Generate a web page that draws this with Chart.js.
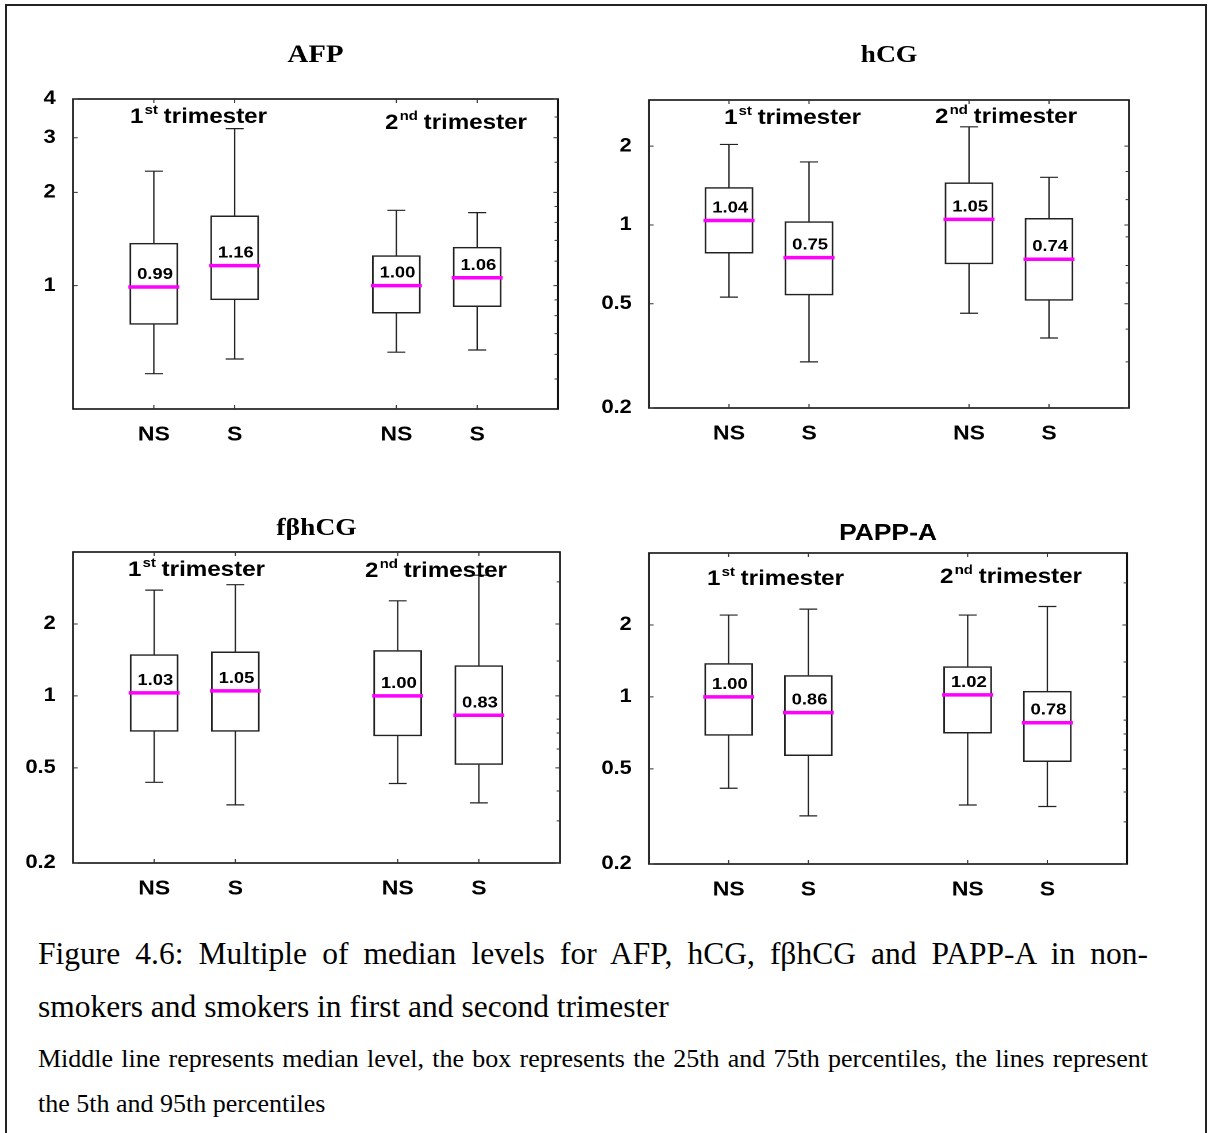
<!DOCTYPE html>
<html>
<head>
<meta charset="utf-8">
<script src="https://cdn.jsdelivr.net/npm/chart.js@4.4.1/dist/chart.umd.min.js"></script>
<style>
  html, body { margin: 0; padding: 0; background: #fff; }
  body { width: 1211px; height: 1133px; position: relative; overflow: hidden; }
  .panel { position: absolute; transform-origin: 0 0; }
  .cap { position: absolute; left: 38px; width: 1110px; font-family: "Liberation Serif", "Times New Roman", serif; color: #000; }
  .just { text-align: justify; text-align-last: justify; }
  #frame { position: absolute; left: 5px; top: 4px; width: 1198px; height: 1200px; border: 2px solid #222; border-bottom: none; pointer-events: none; }
</style>
</head>
<body>
<div id="root"></div>
<div class="cap just" style="top:938px;font-size:31.5px;line-height:31.5px;">Figure 4.6: Multiple of median levels for AFP, hCG, fβhCG and PAPP-A in non-</div>
<div class="cap" style="top:991px;font-size:31.5px;line-height:31.5px;">smokers and smokers in first and second trimester</div>
<div class="cap just" style="top:1046px;font-size:26px;line-height:26px;">Middle line represents median level, the box represents the 25th and 75th percentiles, the lines represent</div>
<div class="cap" style="top:1091px;font-size:26px;line-height:26px;">the 5th and 95th percentiles</div>
<div id="frame"></div>
<script>
// ---------- DATA ----------
const xLabels = ['', 'NS', 'S', '', 'NS', 'S', ''];

const afpP5     = [null, 0.52, 0.58, null, 0.61, 0.62, null];
const afpQ1     = [null, 0.75, 0.90, null, 0.815, 0.855, null];
const afpMedian = [null, 0.99, 1.16, null, 1.00, 1.06, null];
const afpQ3     = [null, 1.37, 1.68, null, 1.25, 1.33, null];
const afpP95    = [null, 2.34, 3.21, null, 1.75, 1.72, null];
const afpTicks  = [1, 2, 3, 4];
const afpMinor  = [0.5, 0.6, 0.7, 0.8, 0.9, 1.2, 1.4, 1.6, 1.8, 2.5, 3.5];

const hcgP5     = [null, 0.53, 0.30, null, 0.46, 0.37, null];
const hcgQ1     = [null, 0.78, 0.54, null, 0.71, 0.515, null];
const hcgMedian = [null, 1.04, 0.75, null, 1.05, 0.74, null];
const hcgQ3     = [null, 1.39, 1.03, null, 1.45, 1.06, null];
const hcgP95    = [null, 2.03, 1.74, null, 2.37, 1.52, null];
const hcgTicks  = [0.2, 0.5, 1, 2];
const hcgMinor  = [0.3, 0.4, 0.6, 0.7, 0.9, 1.25, 1.6];

const fbP5      = [null, 0.435, 0.35, null, 0.43, 0.357, null];
const fbQ1      = [null, 0.71, 0.71, null, 0.68, 0.516, null];
const fbMedian  = [null, 1.03, 1.05, null, 1.00, 0.83, null];
const fbQ3      = [null, 1.49, 1.53, null, 1.55, 1.34, null];
const fbP95     = [null, 2.77, 2.92, null, 2.50, 3.20, null];
const fbTicks   = [0.2, 0.5, 1, 2];
const fbMinor   = [0.3, 0.4, 0.6, 0.7, 0.8, 1.4, 3];

const papP5     = [null, 0.415, 0.318, null, 0.353, 0.348, null];
const papQ1     = [null, 0.69, 0.568, null, 0.705, 0.536, null];
const papMedian = [null, 1.00, 0.86, null, 1.02, 0.78, null];
const papQ3     = [null, 1.38, 1.23, null, 1.34, 1.056, null];
const papP95    = [null, 2.20, 2.33, null, 2.20, 2.39, null];
const papTicks  = [0.2, 0.5, 1, 2];
const papMinor  = [0.3, 0.4, 0.6, 0.7, 0.8, 1.4, 3];

// ---------- LAYOUT / STYLE ----------
const SX = 1.15;           // horizontal stretch of the original figure
const SANS = '"Liberation Sans", Arial, sans-serif';
const SERIF = '"Liberation Serif", "Times New Roman", serif';
const XAH = 40;            // x-axis band height

const panels = [
  { left: 0, top: 0, pw: 600, ph: 470, area: { l: 73, t: 99, r: 558, b: 409 },
    min: 0.4, max: 4, ticks: afpTicks, minor: afpMinor,
    p5: afpP5, q1: afpQ1, med: afpMedian, q3: afpQ3, p95: afpP95,
    title: { text: 'AFP', font: 'bold 25px ' + SERIF, dy: 37 },
    tri: [{ dx: 57, dy: 24, n: '1', s: 'st' }, { dx: 312, dy: 30, n: '2', s: 'nd' }] },
  { left: 600, top: 0, pw: 605, ph: 470, area: { l: 649, t: 100, r: 1129, b: 408 },
    min: 0.2, max: 3, ticks: hcgTicks, minor: hcgMinor,
    p5: hcgP5, q1: hcgQ1, med: hcgMedian, q3: hcgQ3, p95: hcgP95,
    title: { text: 'hCG', font: 'bold 24px ' + SERIF, dy: 38 },
    tri: [{ dx: 75, dy: 24, n: '1', s: 'st' }, { dx: 286, dy: 23, n: '2', s: 'nd' }] },
  { left: 0, top: 470, pw: 600, ph: 440, area: { l: 73, t: 552, r: 560, b: 863 },
    min: 0.2, max: 4, ticks: fbTicks, minor: fbMinor,
    p5: fbP5, q1: fbQ1, med: fbMedian, q3: fbQ3, p95: fbP95,
    title: { text: 'fβhCG', font: 'bold 24px ' + SERIF, dy: 17 },
    tri: [{ dx: 55, dy: 24, n: '1', s: 'st' }, { dx: 292, dy: 25, n: '2', s: 'nd' }] },
  { left: 600, top: 470, pw: 605, ph: 440, area: { l: 649, t: 553, r: 1127, b: 864 },
    min: 0.2, max: 4, ticks: papTicks, minor: papMinor,
    p5: papP5, q1: papQ1, med: papMedian, q3: papQ3, p95: papP95,
    title: { text: 'PAPP-A', font: 'bold 23px ' + SANS, dy: 13 },
    tri: [{ dx: 58, dy: 32, n: '1', s: 'st' }, { dx: 291, dy: 30, n: '2', s: 'nd' }] }
];

function drawPanel(chart, P) {
  const ctx = chart.ctx, a = chart.chartArea, x = chart.scales.x, y = chart.scales.y;
  const boxW = 48 / SX, capW = 18 / SX, medW = 51 / SX;
  ctx.save();
  // whiskers
  ctx.strokeStyle = '#222';
  ctx.lineWidth = 1.2;
  for (let i = 0; i < xLabels.length; i++) {
    if (P.med[i] == null) continue;
    const px = x.getPixelForValue(i);
    const yq1 = y.getPixelForValue(P.q1[i]), yq3 = y.getPixelForValue(P.q3[i]);
    const y5 = y.getPixelForValue(P.p5[i]), y95 = y.getPixelForValue(P.p95[i]);
    ctx.beginPath();
    ctx.moveTo(px, yq3); ctx.lineTo(px, y95);
    ctx.moveTo(px - capW / 2, y95); ctx.lineTo(px + capW / 2, y95);
    ctx.moveTo(px, yq1); ctx.lineTo(px, y5);
    ctx.moveTo(px - capW / 2, y5); ctx.lineTo(px + capW / 2, y5);
    ctx.stroke();
  }
  // medians + labels
  for (let i = 0; i < xLabels.length; i++) {
    if (P.med[i] == null) continue;
    const px = x.getPixelForValue(i);
    const ym = y.getPixelForValue(P.med[i]);
    ctx.strokeStyle = '#ff00ff';
    ctx.lineWidth = 3.5;
    ctx.beginPath();
    ctx.moveTo(px - medW / 2, ym); ctx.lineTo(px + medW / 2, ym);
    ctx.stroke();
    ctx.fillStyle = '#000';
    ctx.font = 'bold 16px ' + SANS;
    ctx.textAlign = 'center';
    ctx.textBaseline = 'alphabetic';
    ctx.fillText(P.med[i].toFixed(2), px + 1, ym - 8);
  }
  // plot frame
  ctx.strokeStyle = '#111';
  ctx.lineWidth = 1.6;
  ctx.strokeRect(a.left, a.top, a.right - a.left, a.bottom - a.top);
  // major ticks (inward, both sides), minor ticks (right side)
  ctx.lineWidth = 1;
  ctx.strokeStyle = '#333';
  ctx.beginPath();
  P.ticks.forEach(v => {
    const py = y.getPixelForValue(v);
    ctx.moveTo(a.left, py); ctx.lineTo(a.left + 4, py);
    ctx.moveTo(a.right, py); ctx.lineTo(a.right - 4, py);
  });
  P.minor.forEach(v => {
    const py = y.getPixelForValue(v);
    ctx.moveTo(a.right, py); ctx.lineTo(a.right - 3, py);
  });
  for (let i = 0; i < xLabels.length; i++) {
    if (!xLabels[i]) continue;
    const px = x.getPixelForValue(i);
    ctx.moveTo(px, a.bottom); ctx.lineTo(px, a.bottom - 4);
    ctx.moveTo(px, a.top); ctx.lineTo(px, a.top + 4);
  }
  ctx.stroke();
  // trimester labels
  ctx.fillStyle = '#000';
  ctx.textAlign = 'left';
  P.tri.forEach(t => {
    let tx = a.left + t.dx / SX;
    const ty = a.top + t.dy;
    ctx.font = 'bold 21px ' + SANS;
    ctx.fillText(t.n, tx, ty);
    tx += ctx.measureText(t.n).width + 1;
    ctx.font = 'bold 13px ' + SANS;
    ctx.fillText(t.s, tx, ty - 9);
    tx += ctx.measureText(t.s).width + 5;
    ctx.font = 'bold 21px ' + SANS;
    ctx.fillText('trimester', tx, ty);
  });
  // panel title
  ctx.font = P.title.font;
  ctx.textAlign = 'center';
  ctx.fillText(P.title.text, (a.left + a.right) / 2, a.top - P.title.dy);
  ctx.restore();
}

const root = document.getElementById('root');
panels.forEach(P => {
  const W = Math.round(P.pw / SX), H = P.ph;
  const aL = (P.area.l - P.left) / SX, aR = (P.area.r - P.left) / SX;
  const aT = P.area.t - P.top, aB = P.area.b - P.top;
  const div = document.createElement('div');
  div.className = 'panel';
  div.style.left = P.left + 'px';
  div.style.top = P.top + 'px';
  div.style.width = W + 'px';
  div.style.height = H + 'px';
  div.style.transform = 'scaleX(' + SX + ')';
  const cv = document.createElement('canvas');
  cv.width = W; cv.height = H;
  div.appendChild(cv);
  root.appendChild(div);
  new Chart(cv, {
    type: 'bar',
    data: {
      labels: xLabels,
      datasets: [{
        data: P.q1.map((v, i) => v == null ? null : [v, P.q3[i]]),
        backgroundColor: '#ffffff',
        borderColor: '#222',
        borderWidth: 1.5,
        borderSkipped: false,
        barThickness: 48 / SX
      }]
    },
    options: {
      responsive: false,
      animation: false,
      devicePixelRatio: 2,
      layout: { padding: { left: 0, top: aT, right: W - aR, bottom: H - aB - XAH } },
      plugins: { legend: { display: false }, tooltip: { enabled: false }, title: { display: false } },
      scales: {
        x: {
          type: 'category', offset: false,
          grid: { display: false }, border: { display: false },
          ticks: { autoSkip: false, maxRotation: 0, padding: 6, color: '#000',
                   font: { family: SANS, weight: 'bold', size: 20 } },
          afterFit: s => { s.height = XAH; }
        },
        y: {
          type: 'logarithmic', min: P.min, max: P.max,
          grid: { display: false }, border: { display: false },
          ticks: { autoSkip: false, padding: 7, color: '#000',
                   font: { family: SANS, weight: 'bold', size: 19 },
                   callback: v => String(v) },
          afterBuildTicks: s => { s.ticks = P.ticks.map(v => ({ value: v })); },
          afterFit: s => { s.width = aL; }
        }
      }
    },
    plugins: [{ id: 'boxplot', afterDatasetsDraw(chart) { drawPanel(chart, P); } }]
  });
});
</script>
</body>
</html>
